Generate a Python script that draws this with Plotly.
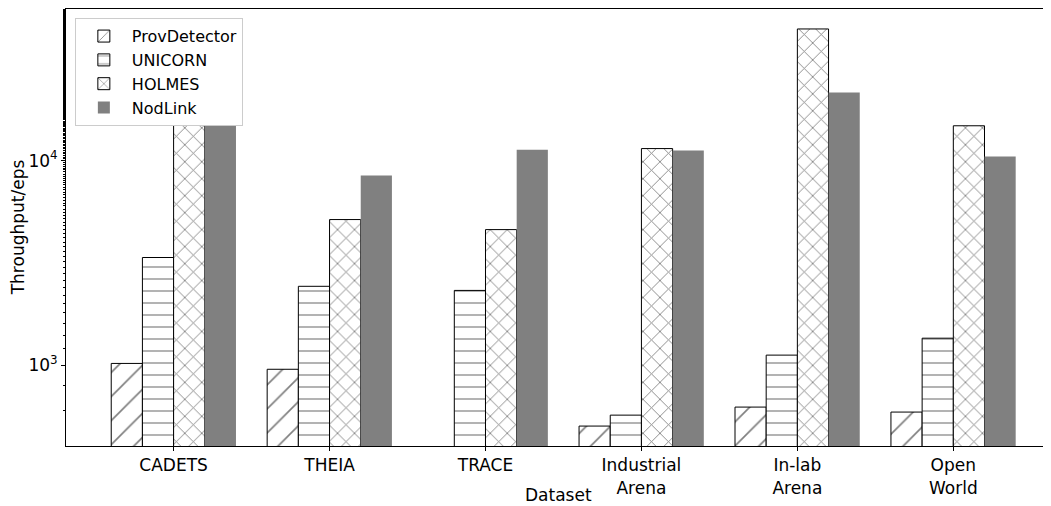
import plotly.graph_objects as go

datasets = ["CADETS", "THEIA", "TRACE", "Industrial<br>Arena", "In-lab<br>Arena", "Open<br>World"]
provdetector = [1020, 955, None, 504, 624, 590]
unicorn = [3360, 2430, 2320, 570, 1120, 1355]
holmes = [28000, 5150, 4600, 11450, 44000, 14800]
nodlink = [24000, 8450, 11300, 11200, 21500, 10460]

series = [
    ("ProvDetector", provdetector, "/", 17, 0.1),
    ("UNICORN", unicorn, "-", 12, 0.1),
    ("HOLMES", holmes, "x", 12, 0.14),
]

fig = go.Figure()
for name, vals, shape, psize, solid in series:
    fig.add_trace(go.Bar(
        name=name, x=datasets, y=vals,
        marker=dict(color="white", line=dict(color="black", width=1),
                    pattern=dict(shape=shape, fgcolor="black", bgcolor="white",
                                 size=psize, solidity=solid)),
    ))
fig.add_trace(go.Bar(name="NodLink", x=datasets, y=nodlink,
                     marker=dict(color="#808080", line=dict(width=0))))

font = dict(family="DejaVu Sans", size=17, color="black")
fig.update_layout(
    width=1043, height=498,
    margin=dict(l=58, r=1, t=1, b=60, autoexpand=False),
    paper_bgcolor="white", plot_bgcolor="white",
    barmode="group", bargap=0.2, bargroupgap=0,
    font=font,
    legend=dict(x=0.009, y=0.979, xanchor="left", yanchor="top",
                bgcolor="white", bordercolor="#cccccc", borderwidth=1,
                itemwidth=46,
                font=dict(family="DejaVu Sans", size=16, color="black")),
    xaxis=dict(automargin=False,
               range=[-0.69, 5.62], showline=True, linecolor="black", linewidth=1,
               mirror=True, ticks="outside", ticklen=4, tickcolor="black",
               showgrid=False, tickfont=font),
    yaxis=dict(automargin=False,
               type="log", range=[2.605, 4.741], showline=True, linecolor="black",
               linewidth=1, ticks="outside", ticklen=4, tickcolor="black",
               tickvals=[1000, 10000], ticktext=["10<sup>3</sup>", "10<sup>4</sup>"],
               showgrid=False, tickfont=font,
               minor=dict(ticks="outside", ticklen=2, tickcolor="black", showgrid=False)),
    annotations=[
        dict(text="Dataset", xref="paper", yref="paper", x=0.5, y=-0.113,
             xanchor="center", yanchor="middle", showarrow=False, font=font),
        dict(text="Throughput/eps", xref="paper", yref="paper", x=-0.049, y=0.5,
             xanchor="center", yanchor="middle", textangle=-90, showarrow=False, font=font),
    ],
)
fig.write_html("out.html")
